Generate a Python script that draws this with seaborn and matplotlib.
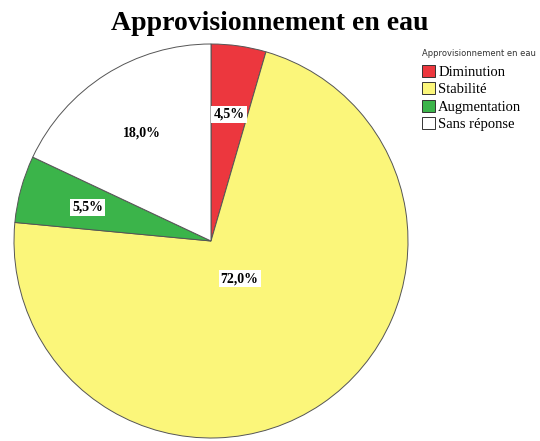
import matplotlib.pyplot as plt
import seaborn as sns
import numpy as np

# Data
categories = ["Diminution", "Stabilité", "Augmentation", "Sans réponse"]
values = [4.5, 72.0, 5.5, 18.0]
labels = ["4,5%", "72,0%", "5,5%", "18,0%"]
colors = ["#ec373e", "#fbf67a", "#3bb44a", "#ffffff"]

sns.set_theme(style="white")
plt.rcParams["font.family"] = ["Liberation Serif", "DejaVu Serif"]
plt.rcParams["text.color"] = "black"

fig = plt.figure(figsize=(5.4, 4.41), dpi=100)
ax = fig.add_axes([14 / 540, 3 / 441, 394 / 540, 394 / 441])

wedges, texts = ax.pie(
    values,
    colors=colors,
    startangle=90,
    counterclock=False,
    radius=1.0,
    wedgeprops=dict(edgecolor="#555555", linewidth=0.7),
)

# percentage labels, placed at the middle angle of each wedge
for w, lab in zip(wedges, labels):
    mid = np.deg2rad((w.theta1 + w.theta2) / 2)
    r = 0.65
    if lab == "72,0%":
        r = 0.24
        mid = np.deg2rad(-52.7)
    ax.text(r * np.cos(mid), r * np.sin(mid), lab, ha="center", va="center",
            fontsize=10, fontweight="bold", color="black",
            bbox=dict(facecolor="white", edgecolor="none", pad=1.5))

ax.set_xlim(-1.0, 1.0)
ax.set_ylim(-1.0, 1.0)
ax.set_aspect("equal")
ax.axis("off")

fig.suptitle("Approvisionnement en eau", fontsize=20, fontweight="bold",
             y=0.975, x=0.5, color="black")

leg = fig.legend(wedges, categories, loc="upper left",
                 bbox_to_anchor=(409 / 540, 1 - 36 / 441), frameon=False,
                 fontsize=10.5, handlelength=0.9, handleheight=0.9,
                 handletextpad=0.2, labelspacing=0.22,
                 title="Approvisionnement en eau",
                 title_fontproperties={"family": "DejaVu Sans", "size": 6})
leg._legend_box.align = "left"
leg._legend_box.sep = 5
for t in leg.get_texts():
    t.set_color("black")
leg.get_title().set_color("#333333")
for h in leg.legend_handles:
    h.set_edgecolor("#333333")
    h.set_linewidth(0.7)

fig.savefig("out.png", dpi=100)
